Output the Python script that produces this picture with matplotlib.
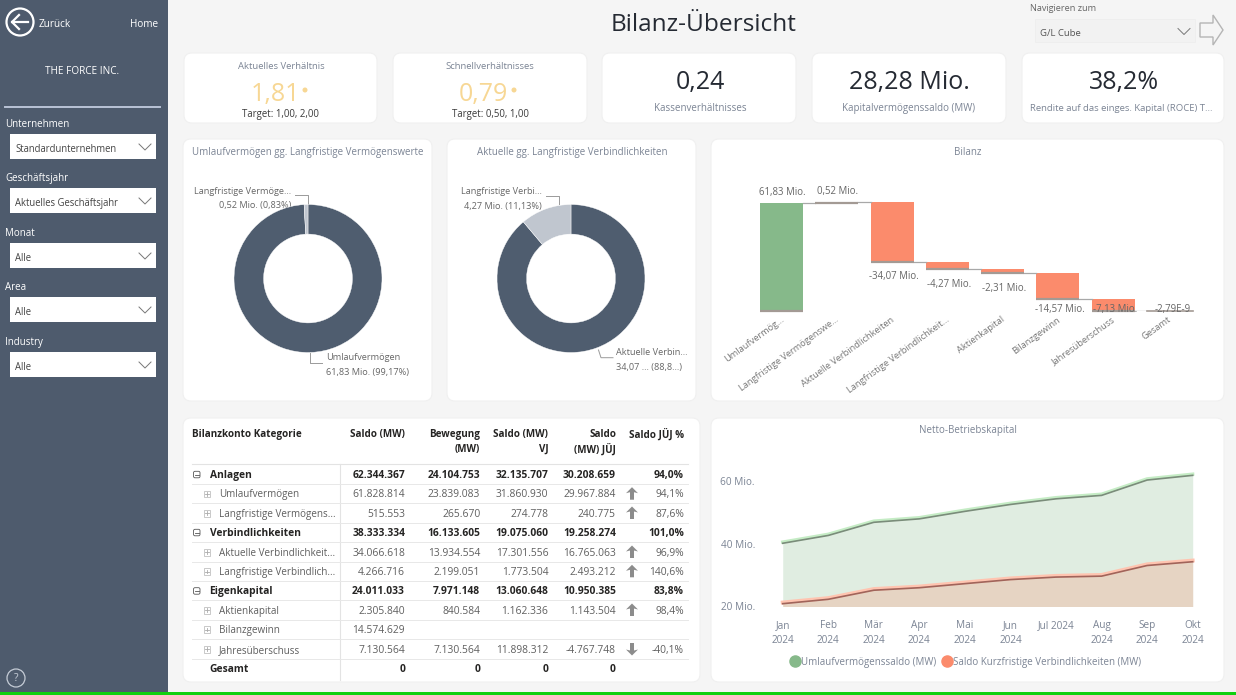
import matplotlib
matplotlib.use('Agg')
import matplotlib.pyplot as plt
from matplotlib.lines import Line2D
from matplotlib.patches import Circle, FancyBboxPatch, Polygon, Rectangle
from matplotlib.transforms import offset_copy

plt.rcParams['font.family'] = ['Open Sans', 'DejaVu Sans']

# Daten
donut1_names = ['Umlaufvermögen', 'Langfristige Vermögenswerte']
donut1_values = [61.83, 0.52]
donut2_names = ['Aktuelle Verbindlichkeiten', 'Langfristige Verbindlichkeiten']
donut2_values = [34.07, 4.27]

wf_names = ['Umlaufvermög...', 'Langfristige Vermögenswe...', 'Aktuelle Verbindlichkeiten',
            'Langfristige Verbindlichkeit...', 'Aktienkapital', 'Bilanzgewinn',
            'Jahresüberschuss', 'Gesamt']
wf_values = [61.83, 0.52, -34.07, -4.27, -2.31, -14.57, -7.13]
wf_labels = ['61,83 Mio.', '0,52 Mio.', '-34,07 Mio.', '-4,27 Mio.', '-2,31 Mio.',
             '-14,57 Mio.', '-7,13 Mio.', '-2,79E-9']

months = ['Jan\n2024', 'Feb\n2024', 'Mär\n2024', 'Apr\n2024', 'Mai\n2024', 'Jun\n2024',
          'Jul 2024', 'Aug\n2024', 'Sep\n2024', 'Okt\n2024']
umlauf = [40.2, 42.7, 46.9, 48.0, 50.4, 52.6, 54.4, 55.5, 60.4, 61.9]
kurzfristig = [20.9, 22.3, 25.2, 26.0, 27.3, 28.6, 29.4, 29.7, 33.1, 34.3]

table_names = ['Anlagen', 'Umlaufvermögen', 'Langfristige Vermögens...', 'Verbindlichkeiten',
               'Aktuelle Verbindlichkeit...', 'Langfristige Verbindlich...', 'Eigenkapital',
               'Aktienkapital', 'Bilanzgewinn', 'Jahresüberschuss', 'Gesamt']
table_level = [0, 1, 1, 0, 1, 1, 0, 1, 1, 1, 2]
saldo = ['62.344.367', '61.828.814', '515.553', '38.333.334', '34.066.618', '4.266.716',
         '24.011.033', '2.305.840', '14.574.629', '7.130.564', '0']
bewegung = ['24.104.753', '23.839.083', '265.670', '16.133.605', '13.934.554', '2.199.051',
            '7.971.148', '840.584', '', '7.130.564', '0']
saldo_vj = ['32.135.707', '31.860.930', '274.778', '19.075.060', '17.301.556', '1.773.504',
            '13.060.648', '1.162.336', '', '11.898.312', '0']
saldo_juj = ['30.208.659', '29.967.884', '240.775', '19.258.274', '16.765.063', '2.493.212',
             '10.950.385', '1.143.504', '', '-4.767.748', '0']
saldo_pct = ['94,0%', '94,1%', '87,6%', '101,0%', '96,9%', '140,6%', '83,8%', '98,4%', '',
             '-40,1%', '']
arrows = [0, 1, 1, 0, 1, 1, 0, 1, 0, -1, 0]

slicer_titles = ['Unternehmen', 'Geschäftsjahr', 'Monat', 'Area', 'Industry']
slicer_values = ['Standardunternehmen', 'Aktuelles Geschäftsjahr', 'Alle', 'Alle', 'Alle']

W, H = 1236, 695
BG = '#f5f5f5'
SIDE = '#4e5b6d'
DARK = '#4f5d6f'
GREY = '#7b8494'
TEXT = '#3a3a3a'
GREEN = '#86b98a'
ORANGE = '#fb8b6c'

fig = plt.figure(figsize=(W / 100, H / 100), dpi=100, facecolor=BG)
bg = fig.add_axes([0, 0, 1, 1])
bg.set_xlim(0, W)
bg.set_ylim(H, 0)
bg.axis('off')


def px_axes(left, top, right, bottom):
    ax = fig.add_axes([left / W, 1 - bottom / H, (right - left) / W, (bottom - top) / H])
    ax.patch.set_alpha(0)
    return ax


def panel(x0, y0, x1, y1):
    bg.add_patch(FancyBboxPatch((x0 + 6, y0 + 6), x1 - x0 - 12, y1 - y0 - 12,
                                boxstyle='round,pad=6,rounding_size=8',
                                fc='white', ec='#f0f0f0', lw=0.8))


def label(x, y, s, size=7, color=TEXT, ha='center', weight='normal'):
    # va=center sitzt bei dieser Schrift etwas zu hoch
    bg.text(x, y + size * 0.17, s, fontsize=size, color=color, ha=ha, va='center', fontweight=weight)


def chevron(x, y, color='#777777', w=6, h=3):
    bg.plot([x - w, x, x + w], [y - h, y + h, y - h], color=color, lw=0.7)


# Seitenleiste
bg.add_patch(Rectangle((0, 0), 168, H, fc=SIDE, ec='none'))
bg.add_patch(Rectangle((0, 692), W, 3, fc='#10d010', ec='none'))
bg.add_patch(Circle((20, 22), 13.5, fc='none', ec='white', lw=1.6))
bg.plot([12, 28], [22, 22], color='white', lw=1.6)
bg.plot([19, 12, 19], [15, 22, 29], color='white', lw=1.6)
label(55, 23, 'Zurück', 7.2, 'white')
label(144, 23, 'Home', 7.2, 'white')
label(82, 70, 'THE FORCE INC.', 7.2, 'white')
bg.plot([5, 160], [106.7, 106.7], color='#b9c3d6', lw=1.4)
slicer_tops = [134, 188, 243, 297, 352]
for name, val, top in zip(slicer_titles, slicer_values, slicer_tops):
    label(5, top - 11, name, 7.0, 'white', ha='left')
    bg.add_patch(Rectangle((9.5, top), 146, 25, fc='white', ec='none'))
    label(15, top + 14, val, 6.85, '#444444', ha='left')
    chevron(145, top + 13)
bg.add_patch(Circle((16, 678), 9, fc='none', ec='#c5ccd6', lw=0.9))
label(16, 677.5, '?', 7.5, '#c5ccd6')

# Kopfzeile
label(703.5, 22, 'Bilanz-Übersicht', 17.6, '#252a33')
label(1030, 7, 'Navigieren zum', 6.6, '#666666', ha='left')
bg.add_patch(Rectangle((1035, 19), 160, 23, fc='#f2f2f2', ec='#eeeeee', lw=0.6))
label(1040, 32, 'G/L Cube', 6.8, '#555555', ha='left')
chevron(1184, 31.5)
bg.add_patch(Polygon([(1200, 23), (1213, 23), (1213, 15), (1223, 30), (1213, 45), (1213, 37), (1200, 37)],
                     closed=True, fc='none', ec='#b5b5b5', lw=1))

# KPI Kacheln
for x0, x1 in [(184, 377), (393, 587), (602, 796), (812, 1006), (1022, 1224)]:
    panel(x0, 53, x1, 123)
label(281, 65, 'Aktuelles Verhältnis', 6.8, GREY)
label(275, 91, '1,81', 18, '#f7d794')
bg.add_patch(Circle((305, 90), 2.5, fc='#f7d794', ec='none'))
label(280, 113, 'Target: 1,00, 2,00', 6.9)
label(490, 65, 'Schnellverhältnisses', 6.8, GREY)
label(483, 91, '0,79', 18, '#f7d794')
bg.add_patch(Circle((514, 90), 2.5, fc='#f7d794', ec='none'))
label(490, 113, 'Target: 0,50, 1,00', 6.9)
label(700, 79, '0,24', 18, '#252a33')
label(700, 107, 'Kassenverhältnisses', 7.0, GREY)
label(909, 79, '28,28 Mio.', 18, '#252a33')
label(909, 107, 'Kapitalvermögenssaldo (MW)', 7.0, GREY)
label(1124, 79, '38,2%', 18, '#252a33')
label(1121, 107, 'Rendite auf das einges. Kapital (ROCE) T...', 6.8, GREY)

# Donuts
panel(183, 139, 432, 401)
panel(447, 139, 696, 401)
label(308, 151, 'Umlaufvermögen gg. Langfristige Vermögenswerte', 7.05, GREY)
label(572.5, 151, 'Aktuelle gg. Langfristige Verbindlichkeiten', 7.05, GREY)

R = 74
for cx, vals in [(308, donut1_values), (571, donut2_values)]:
    ax = px_axes(cx - R, 278.5 - R, cx + R, 278.5 + R)
    ax.pie(vals, startangle=90, counterclock=False, colors=[DARK, '#c0c6cf'], radius=1,
           wedgeprops={'width': 0.4, 'edgecolor': 'white', 'linewidth': 0.3})
    ax.set_xlim(-1, 1)
    ax.set_ylim(-1, 1)

lead = '#9a9a9a'
bg.plot([295, 307.6, 307.6], [195, 195, 204], color=lead, lw=0.7)
bg.plot([310, 310, 322], [353.3, 362.7, 362.7], color=lead, lw=0.7)
bg.plot([546, 558.6, 558.6], [196.3, 196.3, 204.3], color=lead, lw=0.7)
bg.plot([598.5, 601, 613], [350, 357.7, 357.7], color=lead, lw=0.7)
label(291.5, 190, 'Langfristige Vermöge...', 6.6, '#666666', ha='right')
label(291.5, 204, '0,52 Mio. (0,83%)', 6.6, '#666666', ha='right')
label(326, 356, 'Umlaufvermögen', 6.6, '#666666', ha='left')
label(326, 371, '61,83 Mio. (99,17%)', 6.6, '#666666', ha='left')
label(542, 190.7, 'Langfristige Verbi...', 6.6, '#666666', ha='right')
label(542, 205.3, '4,27 Mio. (11,13%)', 6.6, '#666666', ha='right')
label(616.5, 351.7, 'Aktuelle Verbin...', 6.6, '#666666', ha='left')
label(616.5, 366.3, '34,07 ... (88,8...)', 6.6, '#666666', ha='left')

# Wasserfall
panel(711, 139, 1224, 401)
label(968, 151, 'Bilanz', 7.05, GREY)
ax = px_axes(754, 180, 1196, 311)
scale = 109 / 62.35  # px je Mio.
ax.set_xlim(-0.5, 7.5)
ax.set_ylim(0, 131 / scale)
ax.axis('off')
running = 0
for i, v in enumerate(wf_values):
    start = running
    running += v
    low, high = min(start, running), max(start, running)
    color = GREEN if v > 0 else ORANGE
    ax.bar(i, high - low, bottom=low, width=0.78, color=color if abs(v) > 1 else '#a8a4a0')
    # graue Kante am Ende des Balkens
    ax.plot([i - 0.39, i + 0.39], [low, low], color='#a39a94', lw=1.6, solid_capstyle='butt',
            clip_on=False)
    ax.plot([i + 0.39, i + 0.61], [running, running], color='#a8a8a8', lw=0.9)
    if v > 0:
        ypos = high + 10.5 / scale
    else:
        ypos = max(low - 15 / scale, 1.0)
    ax.text(i + (0.02 if v > 0 else 0.03), ypos, wf_labels[i], ha='center', va='center',
            fontsize=6.9, color='#666666', clip_on=False)
ax.plot([6.61, 7.45], [0, 0], color='#a39a94', lw=1.2, clip_on=False)
ax.text(7.07, 1.0, wf_labels[7], ha='center', va='center', fontsize=6.9, color='#666666')
for i, name in enumerate(wf_names):
    ax.annotate(name, xy=(i, 0), xytext=(-1, -3), textcoords='offset points', rotation=36,
                rotation_mode='anchor', ha='right', va='top', fontsize=6.7, color='#777777',
                annotation_clip=False)

# Tabelle
panel(183, 418, 700, 682)
rows_y = [474.3, 493.7, 513, 532.3, 552, 571.3, 590.7, 610, 629.3, 649, 668.3]
col_right = [405, 480.3, 548.3, 616, 684]
HEAD = '#252423'
label(192, 433, 'Bilanzkonto Kategorie', 7.1, HEAD, ha='left', weight='bold')
label(405, 433, 'Saldo (MW)', 7.1, HEAD, ha='right', weight='bold')
label(480.3, 433, 'Bewegung', 7.1, HEAD, ha='right', weight='bold')
label(480.3, 448, '(MW)', 7.1, HEAD, ha='right', weight='bold')
label(548.3, 433, 'Saldo (MW)', 7.1, HEAD, ha='right', weight='bold')
label(548.3, 448, 'VJ', 7.1, HEAD, ha='right', weight='bold')
label(616, 433, 'Saldo', 7.1, HEAD, ha='right', weight='bold')
label(616, 448, '(MW) JÜJ', 7.1, HEAD, ha='right', weight='bold')
label(684, 433, 'Saldo JÜJ %', 7.1, HEAD, ha='right', weight='bold')

bg.plot([192, 688], [463.5, 463.5], color='#e3e3e3', lw=0.8)
bg.plot([339.7, 339.7], [463.5, 680], color='#e3e3e3', lw=0.8)
for i, y in enumerate(rows_y):
    level = table_level[i]
    bold = level != 1
    weight = 'bold' if bold else 'normal'
    color = HEAD if bold else '#5f5f5f'
    if i < len(rows_y) - 1:
        bg.plot([192, 688], [y + 9.7, y + 9.7], color='#e8e8e8', lw=0.7)
    if level == 0:
        bg.add_patch(FancyBboxPatch((193.5, y - 3), 6.5, 6.5, boxstyle='round,pad=0,rounding_size=1.5',
                                    fc='none', ec='#555555', lw=0.6))
        bg.plot([195, 198.5], [y + 0.2, y + 0.2], color='#555555', lw=0.6)
    if level == 1:
        bg.add_patch(Rectangle((203.5, y - 3), 6.5, 6.5, fc='none', ec='#c0c0c0', lw=0.6))
        bg.plot([205, 208.5], [y + 0.2, y + 0.2], color='#aaaaaa', lw=0.6)
        bg.plot([206.8, 206.8], [y - 1.6, y + 2], color='#aaaaaa', lw=0.6)
    label(218.8 if level == 1 else 209.5, y, table_names[i], 7.1 if level == 1 else 7.4,
          color, ha='left', weight=weight)
    for x, col in zip(col_right, [saldo, bewegung, saldo_vj, saldo_juj, saldo_pct]):
        label(x, y, col[i], 7.4, color, ha='right', weight=weight)
    if arrows[i] != 0:
        d = arrows[i]
        ax_x = 632
        bg.add_patch(Polygon([(ax_x, y - 6.5 * d), (ax_x + 6, y - 0.5 * d), (ax_x + 2, y - 1.5 * d),
                              (ax_x + 2, y + 6 * d), (ax_x - 2, y + 6 * d), (ax_x - 2, y - 1.5 * d),
                              (ax_x - 6, y - 0.5 * d)], closed=True, fc='#8c8c8c', ec='none'))

# Flächendiagramm
panel(711, 418, 1224, 682)
label(968, 429.5, 'Netto-Betriebskapital', 7.05, GREY)
ax = px_axes(782.7 - 45.55 * 0.9, 468, 1192.7 + 45.55 * 0.9, 606.5)
x = list(range(len(months)))
ax.set_xlim(-0.9, 9.9)
ax.set_ylim(20, 20 + 138.5 / 3.13)
ax.fill_between(x, umlauf, 20, color=GREEN, alpha=0.25, lw=0)
ax.fill_between(x, kurzfristig, 20, color=ORANGE, alpha=0.25, lw=0)
# heller Saum knapp über der Linie
halo = offset_copy(ax.transData, fig=fig, y=1.2, units='dots')
ax.plot(x, umlauf, color='#c5ecc5', lw=2.4, transform=halo)
ax.plot(x, umlauf, color='#7a8c7a', lw=1.2)
ax.plot(x, kurzfristig, color='#ffc4b0', lw=2.8, transform=halo)
ax.plot(x, kurzfristig, color='#a0645a', lw=1.2)
for side in ax.spines.values():
    side.set_visible(False)
ax.set_xticks(x)
ax.set_xticklabels(months, fontsize=7.2, color=GREY, linespacing=1.45, va='top')
ax.set_yticks([20, 40, 60])
ax.set_yticklabels(['20 Mio.', '40 Mio.', '60 Mio.'], fontsize=7.2, color=GREY)
ax.tick_params(length=0, pad=10, axis='x')
ax.tick_params(length=0, pad=-9.5, axis='y')
handles = [Line2D([], [], marker='o', ls='', color=GREEN, ms=8),
           Line2D([], [], marker='o', ls='', color=ORANGE, ms=8)]
fig.legend(handles, ['Umlaufvermögenssaldo (MW)', 'Saldo Kurzfristige Verbindlichkeiten (MW)'],
           loc='center', bbox_to_anchor=(963 / W, 1 - 662 / H), ncol=2, frameon=False,
           fontsize=7.05, labelcolor=GREY, handletextpad=-0.4, columnspacing=0.1)

fig.savefig('out.png', dpi=100, facecolor=BG)
